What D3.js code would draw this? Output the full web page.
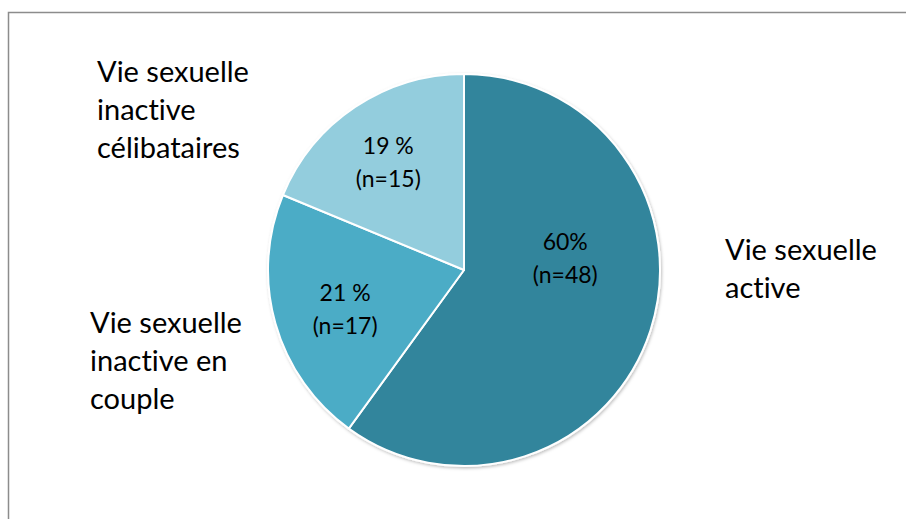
<!DOCTYPE html>
<html>
<head>
<meta charset="utf-8">
<script src="https://cdn.jsdelivr.net/npm/d3@7"></script>
<style>
  body { margin: 0; background: #fff; }
  text { font-family: Lato, "Open Sans", sans-serif; fill: #000; font-variant-ligatures: none; font-feature-settings: "liga" 0, "clig" 0; }
</style>
</head>
<body>
<svg id="canvas"></svg>
<script>
// data
let categories = ["Vie sexuelle active", "Vie sexuelle inactive en couple", "Vie sexuelle inactive célibataires"];
let counts = [48, 17, 15];
let percentLabels = ["60%", "21 %", "19 %"];
let colors = ["#31859C", "#4BACC6", "#93CDDD"];

// category text, split in lines like the original
let categoryLines = [["Vie sexuelle", "active"], ["Vie sexuelle", "inactive en", "couple"], ["Vie sexuelle", "inactive", "célibataires"]];
let categoryAnchor = [[725, 260], [90, 333], [97, 82]];
// where the value labels sit: angle (deg, clockwise from top) and distance from centre
let valueLabelPolar = [[83, 102], [252, 125], [325, 132]];

let width = 906;
let height = 519;
let cx = 464;
let cy = 270;
let radius = 196;

let canvas = d3.select("#canvas")
            .attr("width", width)
            .attr("height", height);

let defs = canvas.append("defs");
let shadow = defs.append("filter")
            .attr("id", "shadow")
            .attr("x", "-10%").attr("y", "-10%")
            .attr("width", "120%").attr("height", "120%");
shadow.append("feDropShadow")
        .attr("dx", 1).attr("dy", 1.5)
        .attr("stdDeviation", 1.5)
        .attr("flood-color", "#000")
        .attr("flood-opacity", 0.25);

// chart frame
canvas.append("rect")
        .attr("x", 8.5)
        .attr("y", 12.5)
        .attr("width", width)
        .attr("height", height)
        .attr("fill", "none")
        .attr("stroke", "#8c8c8c")
        .attr("stroke-width", 1.5);

let pie = d3.pie().sort(null).value((d) => d);
let arcs = pie(counts);

let arc = d3.arc()
            .innerRadius(0)
            .outerRadius(radius);

let g = canvas.append("g")
            .attr("transform", "translate(" + cx + ", " + cy + ")");

g.append("g")
    .attr("filter", "url(#shadow)")
    .selectAll("path")
    .data(arcs)
    .enter()
    .append("path")
    .attr("d", arc)
    .attr("fill", (d, i) => colors[i])
    .attr("stroke", "#fff")
    .attr("stroke-width", 2)
    .attr("stroke-linejoin", "round");

// value labels inside the slices
let valueLabels = g.selectAll(".value")
            .data(arcs)
            .enter()
            .append("text")
            .attr("class", "value")
            .attr("text-anchor", "middle")
            .attr("font-size", "23px")
            .attr("transform", (d, i) => {
                let a = valueLabelPolar[i][0] * Math.PI / 180;
                let r = valueLabelPolar[i][1];
                return "translate(" + (r * Math.sin(a)) + ", " + (-r * Math.cos(a)) + ")";
            });

valueLabels.append("tspan")
            .attr("x", 0)
            .attr("y", -8)
            .text((d, i) => percentLabels[i]);

valueLabels.append("tspan")
            .attr("x", 0)
            .attr("y", 25)
            .text((d) => "(n=" + d.data + ")");

// category labels outside the pie
let catLabels = canvas.selectAll(".category")
            .data(categories)
            .enter()
            .append("text")
            .attr("class", "category")
            .attr("font-size", "29px")
            .attr("x", (d, i) => categoryAnchor[i][0])
            .attr("y", (d, i) => categoryAnchor[i][1]);

catLabels.selectAll("tspan")
            .data((d, i) => categoryLines[i])
            .enter()
            .append("tspan")
            .attr("x", function () { return this.parentNode.getAttribute("x"); })
            .attr("dy", (d, j) => j === 0 ? 0 : 38)
            .text((d) => d);
</script>
</body>
</html>
